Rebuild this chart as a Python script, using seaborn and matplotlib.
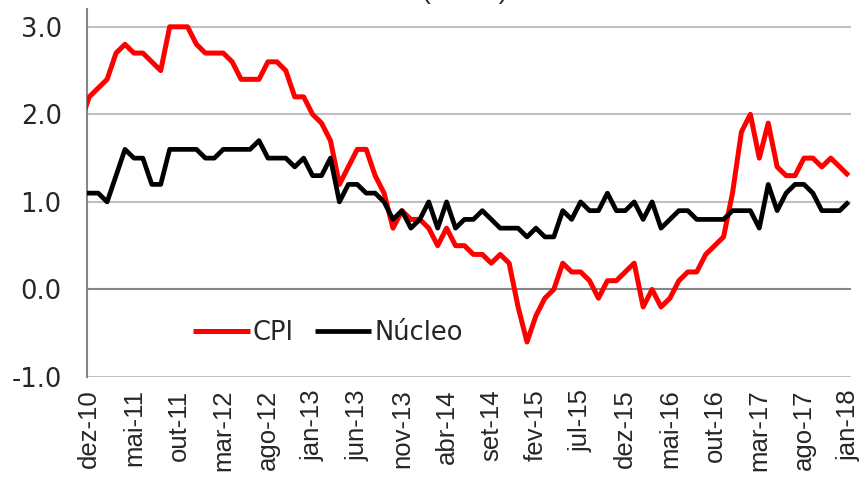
import numpy as np
import pandas as pd
import matplotlib
matplotlib.use("Agg")
import matplotlib.pyplot as plt
import seaborn as sns

# monthly values, nov-10 .. jan-18 (nov-10 sits just left of the axis)
cpi = [1.9, 2.2, 2.3, 2.4, 2.7, 2.8, 2.7, 2.7, 2.6, 2.5,
       3.0, 3.0, 3.0, 2.8, 2.7, 2.7, 2.7, 2.6, 2.4, 2.4,
       2.4, 2.6, 2.6, 2.5, 2.2, 2.2, 2.0, 1.9, 1.7, 1.2,
       1.4, 1.6, 1.6, 1.3, 1.1, 0.7, 0.9, 0.8, 0.8, 0.7,
       0.5, 0.7, 0.5, 0.5, 0.4, 0.4, 0.3, 0.4, 0.3, -0.2,
       -0.6, -0.3, -0.1, 0.0, 0.3, 0.2, 0.2, 0.1, -0.1, 0.1,
       0.1, 0.2, 0.3, -0.2, 0.0, -0.2, -0.1, 0.1, 0.2, 0.2,
       0.4, 0.5, 0.6, 1.1, 1.8, 2.0, 1.5, 1.9, 1.4, 1.3,
       1.3, 1.5, 1.5, 1.4, 1.5, 1.4, 1.3]
nucleo = [1.1, 1.1, 1.1, 1.0, 1.3, 1.6, 1.5, 1.5, 1.2, 1.2,
          1.6, 1.6, 1.6, 1.6, 1.5, 1.5, 1.6, 1.6, 1.6, 1.6,
          1.7, 1.5, 1.5, 1.5, 1.4, 1.5, 1.3, 1.3, 1.5, 1.0,
          1.2, 1.2, 1.1, 1.1, 1.0, 0.8, 0.9, 0.7, 0.8, 1.0,
          0.7, 1.0, 0.7, 0.8, 0.8, 0.9, 0.8, 0.7, 0.7, 0.7,
          0.6, 0.7, 0.6, 0.6, 0.9, 0.8, 1.0, 0.9, 0.9, 1.1,
          0.9, 0.9, 1.0, 0.8, 1.0, 0.7, 0.8, 0.9, 0.9, 0.8,
          0.8, 0.8, 0.8, 0.9, 0.9, 0.9, 0.7, 1.2, 0.9, 1.1,
          1.2, 1.2, 1.1, 0.9, 0.9, 0.9, 1.0]
tick_labels = ['dez-10', 'mai-11', 'out-11', 'mar-12', 'ago-12', 'jan-13',
               'jun-13', 'nov-13', 'abr-14', 'set-14', 'fev-15', 'jul-15',
               'dez-15', 'mai-16', 'out-16', 'mar-17', 'ago-17', 'jan-18']
y_ticks = [-1.0, 0.0, 1.0, 2.0, 3.0]
title = "(% a/a)"

months = np.arange(len(cpi)) - 1  # 0 = dez-10
df = pd.DataFrame({"mes": months, "CPI": cpi, "Núcleo": nucleo})

sns.set_style("white")
plt.rcParams["font.family"] = ["DejaVu Sans"]

fig = plt.figure(figsize=(8.64, 4.84), dpi=100)
ax = fig.add_axes([0.1003, 0.2211, 0.8846, 0.7597])

grid_c = "#C0C0C0"
axis_c = "#868686"
for v in y_ticks:
    if v != 0:
        ax.axhline(v, color=grid_c, lw=1.5, zorder=1)
ax.axhline(0, color=axis_c, lw=1.5, zorder=1)

sns.lineplot(data=df, x="mes", y="CPI", color="#FF0000", lw=3.6,
             label="CPI", ax=ax, zorder=3)
sns.lineplot(data=df, x="mes", y="Núcleo", color="#000000", lw=3.4,
             label="Núcleo", ax=ax, zorder=4)
for ln in ax.lines[-2:]:
    ln.set_solid_capstyle("butt")
    ln.set_solid_joinstyle("round")

ax.set_xlim(-0.29, 85.26)
ax.set_ylim(-1.0, 3.2)
ax.set_xticks(np.arange(0, 86, 5))
ax.set_xticklabels(tick_labels, rotation=90, fontsize=18.5,
                   family="Liberation Sans", va="top", ha="center")
ax.set_yticks(y_ticks)
ax.set_yticklabels([f"{v:.1f}" for v in y_ticks], fontsize=18.5)
ax.tick_params(axis="x", length=0, pad=9)
ax.tick_params(axis="y", length=0, pad=18)
ax.set_xlabel("")
ax.set_ylabel("")

for s in ["top", "right", "bottom"]:
    ax.spines[s].set_visible(False)
ax.spines["left"].set_color(axis_c)
ax.spines["left"].set_linewidth(1.5)

ax.legend(ncol=2, frameon=False, loc="center left",
          bbox_to_anchor=(193 / 864, 1 - 333 / 484),
          bbox_transform=fig.transFigure, fontsize=18.5,
          handlelength=2.2, handletextpad=0.1, columnspacing=0.85,
          borderpad=0, borderaxespad=0)

# title sits mostly above the crop, only the brackets show
fig.text(465 / 864, 1 + 0.5 / 484, title, ha="center", va="baseline",
         fontsize=19, family="Liberation Sans")

fig.savefig("out.png", dpi=100)
